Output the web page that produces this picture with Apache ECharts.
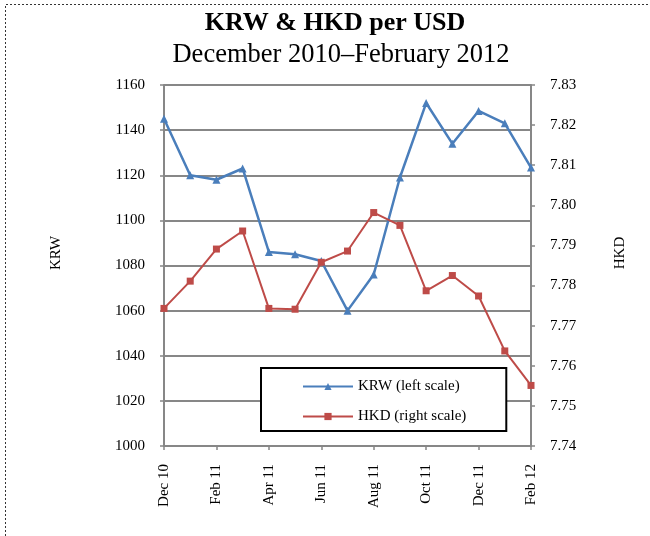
<!DOCTYPE html>
<html>
<head>
<meta charset="utf-8">
<script src="https://cdn.jsdelivr.net/npm/echarts@6/dist/echarts.min.js"></script>
<style>
  html, body { margin: 0; padding: 0; background: #fff; }
  #chart { width: 650px; height: 536px; }
</style>
</head>
<body>
<div id="chart"></div>
<script>
// Monthly exchange rates, Dec 2010 – Feb 2012
const months = ['Dec 10', 'Jan 11', 'Feb 11', 'Mar 11', 'Apr 11', 'May 11', 'Jun 11', 'Jul 11',
                'Aug 11', 'Sep 11', 'Oct 11', 'Nov 11', 'Dec 11', 'Jan 12', 'Feb 12'];
const krw = [1145, 1120, 1118, 1123, 1086, 1085, 1082, 1060, 1076, 1119, 1152, 1134, 1148.5, 1143, 1123.4];
const hkd = [7.7743, 7.7811, 7.7891, 7.7936, 7.7743, 7.7741, 7.7858, 7.7886, 7.7982, 7.7950,
             7.7787, 7.7825, 7.7774, 7.7637, 7.7551];

const FONT = 'Liberation Serif';
const GRID_GRAY = '#878787';
const BLUE = '#4a7ebb';
const RED = '#be4b48';

const chart = echarts.init(document.getElementById('chart'), null, { renderer: 'canvas' });

chart.setOption({
  animation: false,
  backgroundColor: '#fff',
  textStyle: { fontFamily: FONT, color: '#000' },
  title: [
    { text: 'KRW & HKD per USD', left: 330, textAlign: 'center', top: 5,
      textStyle: { fontFamily: FONT, fontSize: 26, fontWeight: 'bold', color: '#000' } },
    { text: 'December 2010\u2013February 2012', left: 336, textAlign: 'center', top: 37,
      textStyle: { fontFamily: FONT, fontSize: 26.5, fontWeight: 'normal', color: '#000' } }
  ],
  grid: { left: 164, right: 119, top: 85, bottom: 90, containLabel: false },
  legend: {
    orient: 'vertical',
    left: 261, top: 368,
    padding: [11, 40, 7, 41],
    itemGap: 15,
    itemWidth: 50, itemHeight: 9,
    borderColor: '#000', borderWidth: 2,
    backgroundColor: '#fff',
    textStyle: { fontFamily: FONT, fontSize: 15, color: '#000' },
    data: ['KRW (left scale)', 'HKD (right scale)']
  },
  xAxis: {
    type: 'category',
    data: months,
    boundaryGap: false,
    axisLine: { lineStyle: { color: GRID_GRAY, width: 2 } },
    axisTick: { interval: 1, length: 4, lineStyle: { color: GRID_GRAY, width: 1.5 } },
    axisLabel: { interval: 1, rotate: 90, margin: 18, fontFamily: FONT, fontSize: 15, color: '#000' },
    splitLine: { show: false }
  },
  yAxis: [
    {
      type: 'value', min: 1000, max: 1160, interval: 20,
      axisLine: { show: true, lineStyle: { color: GRID_GRAY, width: 2 } },
      axisTick: { show: true, length: 4, lineStyle: { color: GRID_GRAY, width: 1.5 } },
      axisLabel: { margin: 19, fontFamily: FONT, fontSize: 15, color: '#000',
                   formatter: v => String(v) },
      splitLine: { show: true, lineStyle: { color: GRID_GRAY, width: 2 } }
    },
    {
      type: 'value', min: 7.74, max: 7.83, interval: 0.01,
      axisLine: { show: true, lineStyle: { color: GRID_GRAY, width: 2 } },
      axisTick: { show: true, length: 4, lineStyle: { color: GRID_GRAY, width: 1.5 } },
      axisLabel: { margin: 19, fontFamily: FONT, fontSize: 15, color: '#000',
                   formatter: v => v.toFixed(2) },
      splitLine: { show: false }
    }
  ],
  series: [
    {
      name: 'KRW (left scale)', type: 'line', yAxisIndex: 0, data: krw,
      symbol: 'triangle', symbolSize: 8, showAllSymbol: true,
      lineStyle: { color: BLUE, width: 2.5 },
      itemStyle: { color: BLUE }
    },
    {
      name: 'HKD (right scale)', type: 'line', yAxisIndex: 1, data: hkd,
      symbol: 'rect', symbolSize: 7, showAllSymbol: true,
      lineStyle: { color: RED, width: 2 },
      itemStyle: { color: RED }
    }
  ],
  graphic: [
    // dotted frame along the top and left edges
    { type: 'polyline', silent: true,
      shape: { points: [[5.5, 540], [5.5, 4.5], [652, 4.5]] },
      style: { stroke: '#333', lineWidth: 1, lineDash: [2, 2], fill: null } },
    // axis titles
    { type: 'text', x: 56, y: 253, rotation: Math.PI / 2,
      style: { text: 'KRW', font: '15px "Liberation Serif"', fill: '#000',
               align: 'center', verticalAlign: 'middle' } },
    { type: 'text', x: 620, y: 253, rotation: Math.PI / 2,
      style: { text: 'HKD', font: '15px "Liberation Serif"', fill: '#000',
               align: 'center', verticalAlign: 'middle' } }
  ]
});
</script>
</body>
</html>
